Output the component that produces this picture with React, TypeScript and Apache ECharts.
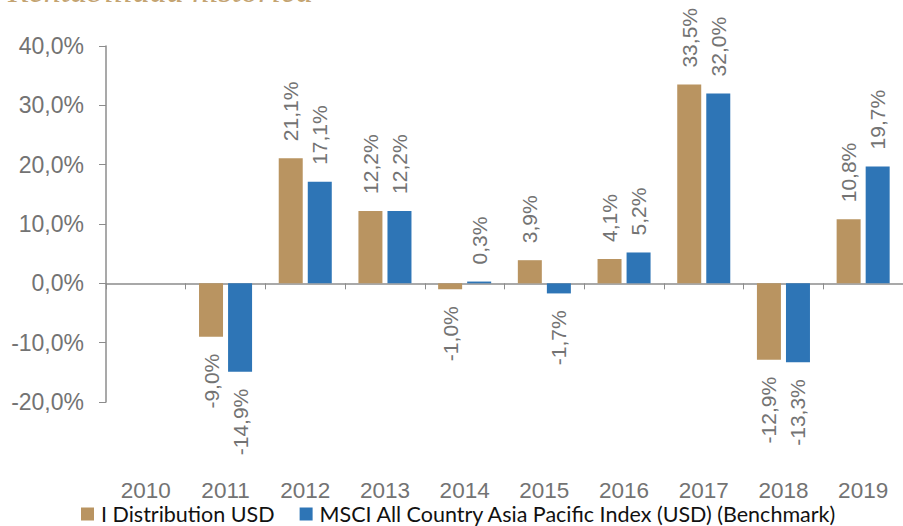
import React, { useEffect, useRef } from "react";
import * as echarts from "echarts";

const years = ["2010", "2011", "2012", "2013", "2014", "2015", "2016", "2017", "2018", "2019"];
const fundValues: (number | null)[] = [null, -9.0, 21.1, 12.2, -1.0, 3.9, 4.1, 33.5, -12.9, 10.8];
const benchValues: (number | null)[] = [null, -14.9, 17.1, 12.2, 0.3, -1.7, 5.2, 32.0, -13.3, 19.7];
const seriesNames = ["I Distribution USD", "MSCI All Country Asia Pacific Index (USD) (Benchmark)"];
const titleText = "Rentabilidad histórica";

const fmt = (v: number) => v.toFixed(1).replace(".", ",") + "%";

const toItems = (arr: (number | null)[]) =>
  arr.map((v) =>
    v === null
      ? null
      : {
          value: v,
          label: {
            position: v < 0 ? "bottom" : "top",
            align: v < 0 ? "right" : "left",
            verticalAlign: "middle",
          },
        }
  );

export default function App() {
  const ref = useRef<HTMLDivElement>(null);
  useEffect(() => {
    if (!ref.current) return;
    const chart = echarts.init(ref.current, undefined, { renderer: "svg" });
    const axisFont = "Liberation Sans, Arial, sans-serif";
    const labelCommon = {
      show: true,
      rotate: 90,
      distance: 17,
      color: "#737373",
      fontSize: 21,
      fontFamily: axisFont,
      formatter: (p: any) => fmt(p.value),
    };
    chart.setOption({
      animation: false,
      graphic: [
        {
          type: "text",
          left: 8,
          top: -27,
          style: {
            text: titleText,
            font: "italic 34px 'Liberation Serif', serif",
            fill: "#C4A472",
          },
        },
      ],
      legend: {
        left: 76,
        top: 498,
        itemWidth: 13,
        itemHeight: 13,
        itemGap: 25,
        icon: "rect",
        textStyle: {
          fontFamily: "Lato, sans-serif",
          fontSize: 21.5,
          lineHeight: 16,
          color: "#111",
          padding: [0, 0, 0, 2],
        },
        data: seriesNames,
      },
      grid: { left: 106, top: 46, width: 800, height: 356, containLabel: false },
      xAxis: [
        {
          type: "category",
          data: years,
          axisLine: { onZero: true, lineStyle: { color: "#8c8c8c", width: 1.5 } },
          axisTick: { show: true, length: 6, lineStyle: { color: "#8c8c8c" } },
          axisLabel: { show: false },
          splitLine: { show: false },
        },
        {
          type: "category",
          data: years,
          position: "bottom",
          axisLine: { show: false, onZero: false },
          axisTick: { show: false },
          axisLabel: {
            show: true,
            margin: 80,
            lineHeight: 16,
            color: "#737373",
            fontSize: 22.5,
            fontFamily: axisFont,
          },
          splitLine: { show: false },
        },
      ],
      yAxis: {
        type: "value",
        min: -20,
        max: 40,
        interval: 10,
        axisLine: { show: true, lineStyle: { color: "#8c8c8c", width: 1.5 } },
        axisTick: { show: true, length: 7, lineStyle: { color: "#8c8c8c" } },
        splitLine: { show: false },
        axisLabel: {
          margin: 22,
          color: "#737373",
          fontSize: 23,
          fontFamily: axisFont,
          formatter: (v: number) => fmt(v),
        },
      },
      series: [
        {
          name: seriesNames[0],
          type: "bar",
          xAxisIndex: 0,
          data: toItems(fundValues),
          barWidth: 24,
          barGap: "21%",
          itemStyle: { color: "#B99461" },
          label: labelCommon,
        },
        {
          name: seriesNames[1],
          type: "bar",
          xAxisIndex: 0,
          data: toItems(benchValues),
          barWidth: 24,
          barGap: "21%",
          itemStyle: { color: "#2E75B6" },
          label: labelCommon,
        },
      ],
    });
    return () => chart.dispose();
  }, []);
  return <div ref={ref} style={{ width: 903, height: 526, position: "absolute", left: 0, top: 0 }} />;
}
